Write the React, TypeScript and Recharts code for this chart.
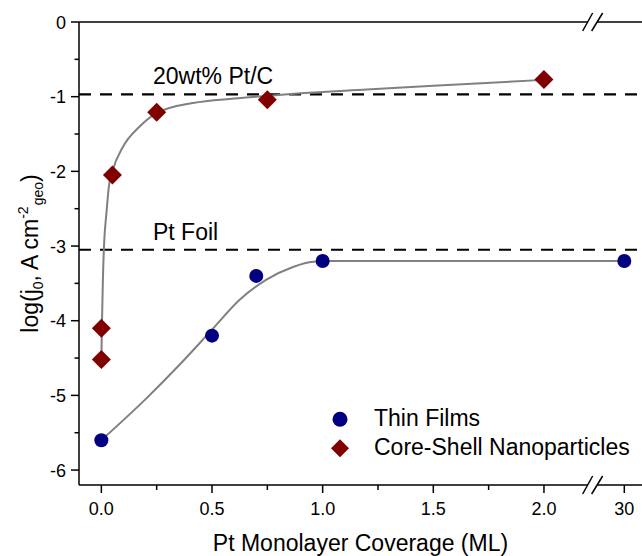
import { ComposedChart, Line, Scatter, XAxis, YAxis, ReferenceLine, ReferenceDot, Legend } from 'recharts'

const FONT = '"Liberation Sans", Arial, Helvetica, sans-serif'

// Pt monolayer coverage (ML) vs log(j0)
const thinX = [0, 0.5, 0.7, 1.0, 30]
const thinY = [-5.6, -4.2, -3.4, -3.2, -3.2]

const coreX = [0, 0, 0.05, 0.25, 0.75, 2.0]
const coreY = [-4.52, -4.1, -2.05, -1.21, -1.04, -0.77]

// grey fit curves
const thinFitX = [0, 0.2, 0.35, 0.5, 0.625, 0.746, 0.866, 0.957, 1.04, 30]
const thinFitY = [-5.6, -5.05, -4.6, -4.12, -3.72, -3.45, -3.28, -3.21, -3.2, -3.2]

const coreFitX = [0, 0.003, 0.007, 0.012, 0.023, 0.034, 0.05, 0.098, 0.173, 0.25, 0.414, 0.6, 0.75, 0.9, 1.2, 1.5, 2.0]
const coreFitY = [-4.52, -4.0, -3.45, -3.0, -2.56, -2.2, -2.0, -1.67, -1.4, -1.22, -1.085, -1.025, -0.99, -0.955, -0.905, -0.855, -0.775]

// reference levels
const PT_C = -0.97
const PT_FOIL = -3.05

const xMajor = [0, 0.5, 1, 1.5, 2, 30]
const xMinor = [0.25, 0.75, 1.25, 1.75]
const yMajor = [0, -1, -2, -3, -4, -5, -6]
const yMinor = [-0.5, -1.5, -2.5, -3.5, -4.5, -5.5]

// broken axis: everything past 2 ML is squeezed next to the break
const X_MIN = -0.101
const X_MAX = 2.443
const Y_MIN = -6.2
const FAR_POS = 2.363
const BREAK_MID = 2.22
const BREAK_HALF = 0.021

const place = (x: number) => (x > 2.2 ? FAR_POS : x)
const unplace = (v: number) => (v > 2.2 ? '30' : v.toFixed(1))

const toPoints = (xs: number[], ys: number[]) => xs.map((x, i) => ({ x: place(x), y: ys[i] }))

const thinData = toPoints(thinX, thinY)
const coreData = toPoints(coreX, coreY)
const thinFit = toPoints(thinFitX, thinFitY)
const coreFit = toPoints(coreFitX, coreFitY)

const isMajorX = (v: number) => xMajor.some((m) => Math.abs(place(m) - v) < 1e-6)

function XTick({ x, y, payload }: any) {
  const v = payload.value
  const major = isMajorX(v)
  return (
    <g>
      <line x1={x} x2={x} y1={y} y2={y + (major ? 8 : 5)} stroke="#000" strokeWidth={1.5} />
      {major && (
        <text x={x} y={y + 30} textAnchor="middle" fontSize={18} fontFamily={FONT} fill="#000">
          {unplace(v)}
        </text>
      )}
    </g>
  )
}

function YTick({ x, y, payload }: any) {
  const v = payload.value
  const major = Number.isInteger(v)
  return (
    <g>
      <line x1={x} x2={x - (major ? 8 : 4.5)} y1={y} y2={y} stroke="#000" strokeWidth={1.5} />
      {major && (
        <text x={x - 13} y={y + 6.5} textAnchor="end" fontSize={18} fontFamily={FONT} fill="#000">
          {v}
        </text>
      )}
    </g>
  )
}

function YTitle({ viewBox }: any) {
  const cx = 38
  const cy = viewBox.y + viewBox.height / 2
  return (
    <text
      x={cx}
      y={cy}
      transform={`rotate(-90, ${cx}, ${cy})`}
      textAnchor="middle"
      fontSize={23}
      fontFamily={FONT}
      fill="#000"
    >
      log(j
      <tspan fontSize={14} dy={5}>0</tspan>
      <tspan dy={-5}>, A cm</tspan>
      <tspan fontSize={14} dy={-10}>-2</tspan>
      <tspan fontSize={14} dy={15} dx={1}>geo</tspan>
      <tspan dy={-5}>)</tspan>
    </text>
  )
}

const Diamond = ({ cx, cy, s = 9.5 }: any) => (
  <polygon points={`${cx},${cy - s} ${cx + s},${cy} ${cx},${cy + s} ${cx - s},${cy}`} fill="#800000" />
)

const Dot = ({ cx, cy, r = 7 }: any) => <circle cx={cx} cy={cy} r={r} fill="#000080" />

const BreakMark = ({ cx, cy }: any) => (
  <g stroke="#000" strokeWidth={1.5}>
    <line x1={cx - 10} y1={cy + 9} x2={cx} y2={cy - 9} />
    <line x1={cx - 1} y1={cy + 9} x2={cx + 10} y2={cy - 9} />
  </g>
)

function refLabel(text: string) {
  return (p: any) => (
    <text x={p.viewBox.x + 74} y={p.viewBox.y - 10} fontSize={23} fontFamily={FONT} fill="#000">
      {text}
    </text>
  )
}

function LegendBox() {
  return (
    <svg width={322} height={80}>
      <Dot cx={20} cy={24.3} r={7.5} />
      <text x={54} y={31} fontSize={23} fontFamily={FONT} fill="#000">Thin Films</text>
      <Diamond cx={20} cy={53.3} s={9} />
      <text x={54} y={60.3} fontSize={23} fontFamily={FONT} fill="#000">Core-Shell Nanoparticles</text>
    </svg>
  )
}

export default function App() {
  return (
    <div style={{ position: 'absolute', left: 0, top: 0, background: '#fff' }}>
      <ComposedChart width={642} height={556} margin={{ top: 22, right: 0, bottom: 0, left: 0 }}>
        <XAxis
          dataKey="x"
          type="number"
          domain={[X_MIN, X_MAX]}
          allowDataOverflow
          ticks={[...xMajor, ...xMinor].map(place)}
          interval={0}
          tick={<XTick />}
          tickLine={false}
          tickSize={0}
          tickMargin={0}
          axisLine={false}
          height={71}
          label={{
            value: 'Pt Monolayer Coverage (ML)',
            position: 'insideBottom',
            offset: 5,
            style: { fontSize: 23, fontFamily: FONT, fill: '#000' },
          }}
        />
        <YAxis
          dataKey="y"
          type="number"
          domain={[Y_MIN, 0]}
          allowDataOverflow
          ticks={[...yMajor, ...yMinor]}
          interval={0}
          tick={<YTick />}
          tickLine={false}
          tickSize={0}
          tickMargin={0}
          axisLine={{ stroke: '#000', strokeWidth: 1.5 }}
          width={79}
          label={(p: any) => <YTitle {...p} />}
        />
        <Legend
          layout="vertical"
          align="center"
          verticalAlign="middle"
          content={() => <LegendBox />}
          wrapperStyle={{ left: 320, top: 395, width: 322, height: 80 }}
        />

        {/* frame with the axis break */}
        <ReferenceLine segment={[{ x: X_MIN, y: 0 }, { x: BREAK_MID - BREAK_HALF, y: 0 }]} stroke="#000" strokeWidth={1.5} />
        <ReferenceLine segment={[{ x: BREAK_MID + BREAK_HALF, y: 0 }, { x: X_MAX, y: 0 }]} stroke="#000" strokeWidth={1.5} />
        <ReferenceLine segment={[{ x: X_MIN, y: Y_MIN }, { x: BREAK_MID - BREAK_HALF, y: Y_MIN }]} stroke="#000" strokeWidth={1.5} />
        <ReferenceLine segment={[{ x: BREAK_MID + BREAK_HALF, y: Y_MIN }, { x: X_MAX, y: Y_MIN }]} stroke="#000" strokeWidth={1.5} />
        <ReferenceDot x={BREAK_MID} y={0} r={1} shape={(p: any) => <BreakMark {...p} />} />
        <ReferenceDot x={BREAK_MID} y={Y_MIN} r={1} shape={(p: any) => <BreakMark {...p} />} />

        <ReferenceLine y={PT_C} stroke="#000" strokeWidth={2.2} strokeDasharray="12 9" label={refLabel('20wt% Pt/C')} />
        <ReferenceLine y={PT_FOIL} stroke="#000" strokeWidth={2.2} strokeDasharray="12 9" label={refLabel('Pt Foil')} />

        <Line data={coreFit} dataKey="y" type="monotone" stroke="#808080" strokeWidth={2} dot={false} activeDot={false} isAnimationActive={false} legendType="none" />
        <Line data={thinFit} dataKey="y" type="monotone" stroke="#808080" strokeWidth={2} dot={false} activeDot={false} isAnimationActive={false} legendType="none" />

        <Scatter name="Thin Films" data={thinData} dataKey="y" shape={(p: any) => <Dot {...p} r={7} />} isAnimationActive={false} />
        <Scatter name="Core-Shell Nanoparticles" data={coreData} dataKey="y" shape={(p: any) => <Diamond {...p} />} isAnimationActive={false} />
      </ComposedChart>
    </div>
  )
}
